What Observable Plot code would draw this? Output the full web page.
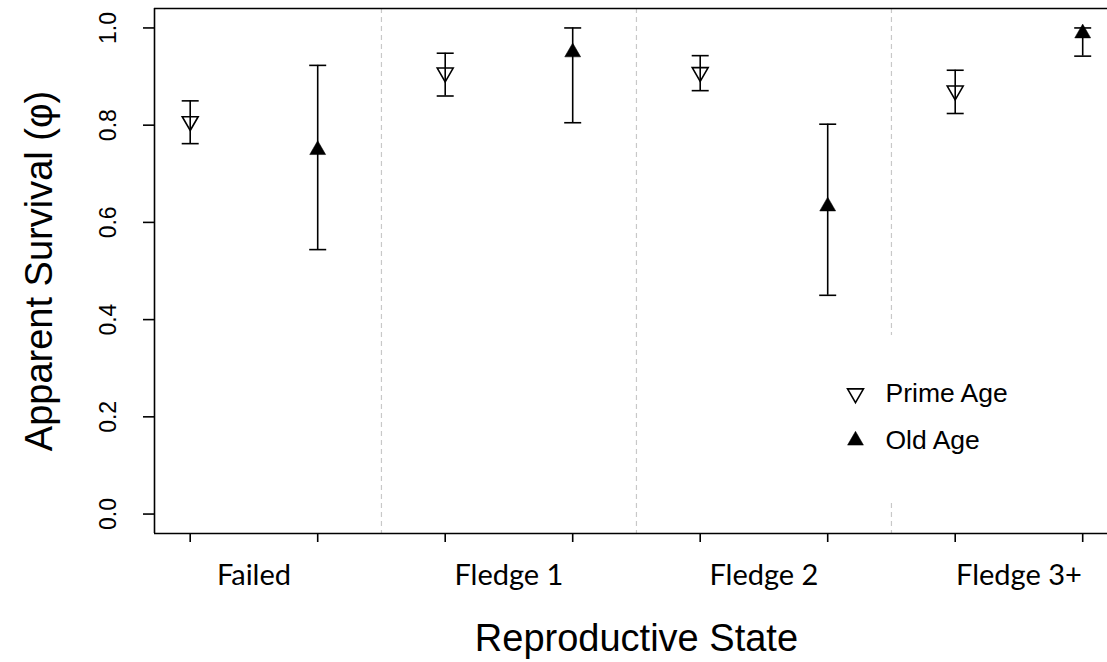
<!DOCTYPE html>
<html>
<head>
<meta charset="utf-8">
<script src="https://cdn.jsdelivr.net/npm/d3@7"></script>
<script src="https://cdn.jsdelivr.net/npm/@observablehq/plot@0.6"></script>
<style>
  html, body { margin: 0; padding: 0; background: #fff; }
  #chart { width: 1107px; height: 662px; overflow: hidden; }
</style>
</head>
<body>
<div id="chart"></div>
<script>
// ---- data ----
const categories = ["Failed", "Fledge 1", "Fledge 2", "Fledge 3+"];
const groups = ["Prime Age", "Old Age"];
const primeEst = [0.808, 0.908, 0.909, 0.871];
const primeLo  = [0.762, 0.860, 0.871, 0.824];
const primeHi  = [0.850, 0.948, 0.943, 0.913];
const oldEst   = [0.749, 0.950, 0.633, 0.989];
const oldLo    = [0.544, 0.805, 0.450, 0.942];
const oldHi    = [0.923, 1.000, 0.802, 1.000];
const yTicks   = [0, 0.2, 0.4, 0.6, 0.8, 1.0];
const xTitle = "Reproductive State";
const yTitle = "Apparent Survival (\u03C6)";

// ---- table ----
const rows = categories.flatMap((c, i) => [
  {cat: c, group: groups[0], pos: 2 * i + 1, est: primeEst[i], lo: primeLo[i], hi: primeHi[i]},
  {cat: c, group: groups[1], pos: 2 * i + 2, est: oldEst[i], lo: oldLo[i], hi: oldHi[i]}
]);
const positions = rows.map(d => d.pos);
const catCenters = categories.map((c, i) => ({cat: c, pos: 2 * i + 1.5}));
const dividers = categories.slice(1).map((c, i) => 2 * i + 2.5);

// ---- symbols (R-like) ----
const triR = 9.2;
const xc = triR * Math.sqrt(3) / 2, yc = triR / 2;
const downTri = {draw(ctx) { ctx.moveTo(0, triR); ctx.lineTo(xc, -yc); ctx.lineTo(-xc, -yc); ctx.closePath(); }};
const upTri = {draw(ctx) { ctx.moveTo(0, -triR); ctx.lineTo(xc, yc); ctx.lineTo(-xc, yc); ctx.closePath(); }};
const cap = {draw(ctx) { ctx.moveTo(-8.5, 0); ctx.lineTo(8.5, 0); }};

const W = 1107, H = 662;
const mL = 154, mT = 8, mB = 129;
const xMin = 1 - 0.04 * 7;
const unit = 127.5;
const xMax = xMin + (W - mL) / unit;
const sans = "Liberation Sans, Arial, Helvetica, sans-serif";
const lw = 1.6;

const prime = rows.filter(d => d.group === groups[0]);
const old = rows.filter(d => d.group === groups[1]);

const plot = Plot.plot({
  width: W,
  height: H,
  marginLeft: mL,
  marginRight: 0,
  marginTop: mT,
  marginBottom: mB,
  style: {fontFamily: sans, background: "white", overflow: "visible"},
  x: {domain: [xMin, xMax], axis: null},
  y: {domain: [-0.04, 1.04], axis: null},
  marks: [
    // dashed dividers
    Plot.ruleX(dividers, {stroke: "#c8c8c8", strokeWidth: 1.2, strokeDasharray: "5,4"}),
    // legend background (covers divider)
    Plot.rect([0], {fill: "white", insetLeft: 680, insetRight: 90, insetTop: 327, insetBottom: 31}),
    // frame: left, bottom, top
    Plot.ruleX([xMin], {stroke: "black", strokeWidth: lw}),
    Plot.ruleY([-0.04, 1.04], {stroke: "black", strokeWidth: lw}),
    // x ticks
    Plot.axisX({ticks: positions, tickSize: 9, strokeWidth: lw, anchor: "bottom", tickFormat: () => "", label: null}),
    // y ticks
    Plot.axisY({ticks: yTicks, tickSize: 11, strokeWidth: lw, anchor: "left", tickFormat: () => "", label: null}),
    Plot.text(yTicks, {y: d => d, text: d => d.toFixed(1), frameAnchor: "left", rotate: -90,
      textAnchor: "middle", lineAnchor: "middle", dx: -46, fontSize: 23, fill: "black"}),
    // category labels
    Plot.text(catCenters, {x: "pos", text: "cat", frameAnchor: "bottom", lineAnchor: "middle",
      dy: 42, fontSize: 29, fontFamily: "Lato, 'Open Sans', sans-serif", fill: "black"}),
    // axis titles
    Plot.text([xTitle], {x: () => 4.5, text: d => d, frameAnchor: "bottom", lineAnchor: "middle",
      dy: 105, fontSize: 38, fill: "black"}),
    Plot.text([yTitle], {text: d => d, frameAnchor: "left", rotate: -90, textAnchor: "middle",
      lineAnchor: "middle", dx: -115, fontSize: 38, fill: "black"}),
    // error bars
    Plot.ruleX(rows, {x: "pos", y1: "lo", y2: "hi", stroke: "black", strokeWidth: lw}),
    Plot.dot(rows, {x: "pos", y: "lo", symbol: cap, stroke: "black", strokeWidth: lw, fill: "none"}),
    Plot.dot(rows, {x: "pos", y: "hi", symbol: cap, stroke: "black", strokeWidth: lw, fill: "none"}),
    // points
    Plot.dot(prime, {x: "pos", y: "est", symbol: downTri, stroke: "black", strokeWidth: lw, fill: "none"}),
    Plot.dot(old, {x: "pos", y: "est", symbol: upTri, stroke: "black", strokeWidth: 0.5, fill: "black"}),
    // legend
    Plot.dot([groups[0]], {frameAnchor: "top-left", dx: 701, dy: 385, symbol: downTri, stroke: "black", strokeWidth: lw, fill: "none"}),
    Plot.dot([groups[1]], {frameAnchor: "top-left", dx: 701, dy: 432, symbol: upTri, stroke: "black", strokeWidth: 0.5, fill: "black"}),
    Plot.text([groups[0]], {text: d => d, frameAnchor: "top-left", dx: 731, dy: 385, textAnchor: "start", lineAnchor: "middle", fontSize: 26.5, fill: "black"}),
    Plot.text([groups[1]], {text: d => d, frameAnchor: "top-left", dx: 731, dy: 432, textAnchor: "start", lineAnchor: "middle", fontSize: 26.5, fill: "black"})
  ]
});
document.getElementById("chart").appendChild(plot);
</script>
</body>
</html>
